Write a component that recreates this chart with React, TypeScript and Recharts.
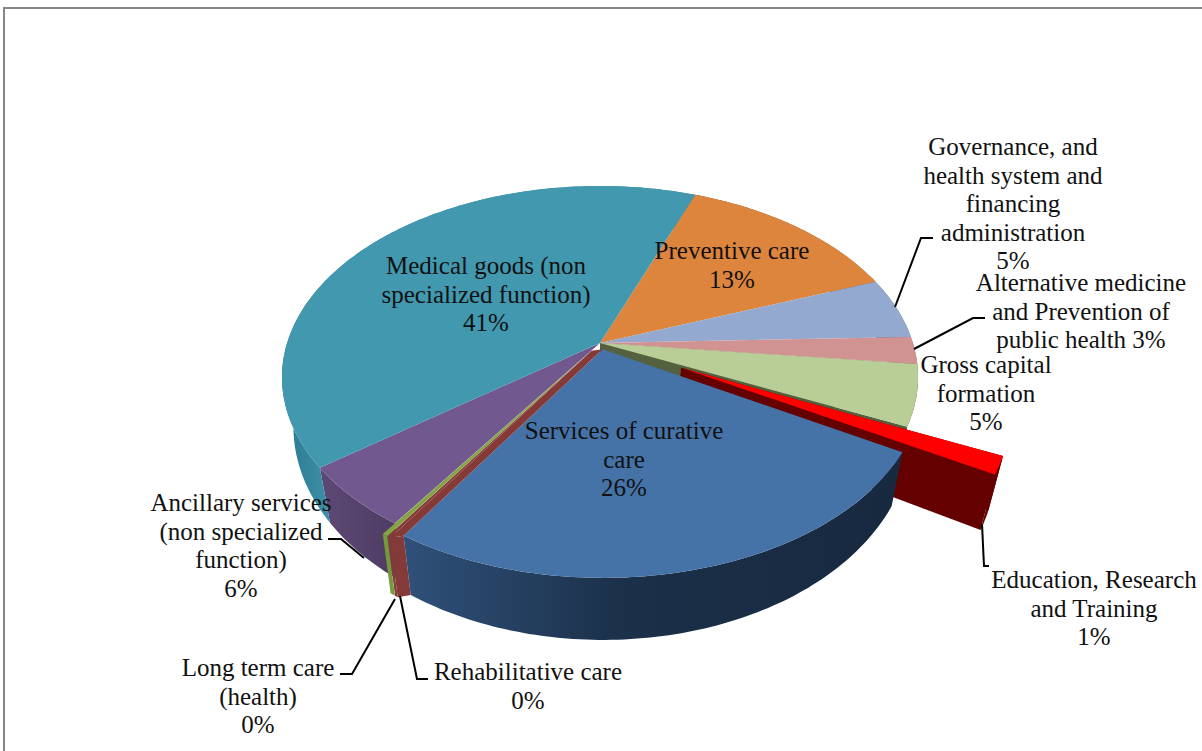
import { PieChart, Pie } from 'recharts';

// slices run clockwise, starting at the Preventive care edge
const sliceNames = [
  'Preventive care',
  'Governance',
  'Alternative medicine',
  'Gross capital formation',
  'Education',
  'Services of curative care',
  'Rehabilitative care',
  'Long term care',
  'Ancillary services',
  'Medical goods',
];
const sliceValues = [13.5, 5.2, 2.3, 5.1, 1.45, 25.7, 0.15, 0.25, 5.3, 41.05];
const labelLines = [
  ['Preventive care', '13%'],
  ['Governance, and', 'health system and', 'financing', 'administration', '5%'],
  ['Alternative medicine', 'and Prevention of', 'public health 3%'],
  ['Gross capital', 'formation', '5%'],
  ['Education, Research', 'and Training', '1%'],
  ['Services of curative', 'care', '26%'],
  ['Rehabilitative care', '0%'],
  ['Long term care', '(health)', '0%'],
  ['Ancillary services', '(non specialized', 'function)', '6%'],
  ['Medical goods (non', 'specialized function)', '41%'],
];

const topColors = ['#DD843D', '#93A9CF', '#D19392', '#B9CD96', '#FF0000', '#4572A7', '#853A38', '#84A442', '#71588F', '#4198AF'];
const wallStops: string[][] = [
  ['#8a5020', '#8a5020'],
  ['#5a6a88', '#5a6a88'],
  ['#8a5f5e', '#8a5f5e'],
  ['#55603f', '#55603f'],
  ['#640000', '#640000'],
  ['#2f5078', '#1b3049', '#17293f'],
  ['#843A38', '#843A38'],
  ['#749A3E', '#749A3E'],
  ['#5c4874', '#4f3c63'],
  ['#2c7a90', '#3a8ea6'],
];
const wallRange = [
  [0, 1202], [0, 1202], [0, 1202], [0, 1202], [0, 1202],
  [410, 620, 900],
  [0, 1202], [0, 1202],
  [325, 395],
  [285, 325],
];

// where each label block is centred, and the y of its first baseline
const labelAnchors = [
  [732, 259], [1013, 155], [1081, 291], [986, 373], [1094, 588],
  [624, 439], [528, 680], [258, 676], [241, 511], [486, 274],
];
const lineStep = 28.5;
const leaderLines = [
  null,
  '895,307 921,238 933,238',
  '914,349 973,318 985,318',
  null,
  '982,524 984,566 989,566',
  null,
  '400,596 417,679 428,679',
  '395,599 352,674 340,674',
  '364,558 341,539 328,539',
  null,
];

// pull of each slice away from the centre, as a share of the radius
const sliceExplode = [0, 0, 0, 0, 0.285, 0.035, 0.05, 0.05, 0, 0];
const sideWalled = [3, 4];
const SERVICES = 5;
const REHAB = 6;
const LONG_TERM = 7;
const CX = 600;
const CY = 343;
// perspective of the disc: semi axes in px and the foreshortening term
const AX = 312.9;
const AY = 185.1;
const K = -0.179;

const topPoint = (thetaDeg: number, offU: number, offV: number, r = 1) => {
  const t = (thetaDeg * Math.PI) / 180;
  const u = r * Math.sin(t) + offU;
  const v = -r * Math.cos(t) + offV;
  const d = 1 + K * v;
  return [CX + (AX * u) / d, CY + (AY * v) / d];
};
// the lower rim of the disc
const lowerPoint = (p: number[]) => [CX + (p[0] - CX) * 0.964, 523 + 1.064 * (p[1] - 468)];

const toPath = (pts: number[][]) => 'M' + pts.map((p) => p[0].toFixed(1) + ',' + p[1].toFixed(1)).join('L') + 'Z';

const offsetFor = (i: number, midDeg: number) => {
  const mid = (midDeg * Math.PI) / 180;
  return [sliceExplode[i] * Math.sin(mid), -sliceExplode[i] * Math.cos(mid)];
};

const sliceGeometry = (props: any) => {
  const i = sliceNames.indexOf(props.payload?.name ?? props.name);
  const a = 90 - props.startAngle;
  const b = 90 - props.endAngle;
  const [offU, offV] = offsetFor(i, (a + b) / 2);
  const arc: number[][] = [];
  const steps = Math.max(2, Math.ceil(Math.abs(b - a)));
  for (let s = 0; s <= steps; s++) arc.push(topPoint(a + ((b - a) * s) / steps, offU, offV));
  const apex = topPoint(0, offU, offV, 0);
  return { i, a, arc, apex };
};

// the band left open between the pulled-out Services slice and Rehabilitative care
const rehabBand = (a: number) => {
  const span = sliceValues[SERVICES] * 3.6;
  const [offU, offV] = offsetFor(SERVICES, a - span / 2);
  return { apex: topPoint(0, offU, offV, 0), rim: topPoint(a, offU, offV) };
};

const renderWall = (props: any) => {
  const { i, a, arc, apex } = sliceGeometry(props);
  const lowerArc = arc.map(lowerPoint);
  const lowerApex = lowerPoint(apex);
  const fill = `url(#wall${i})`;
  return (
    <g>
      {sideWalled.includes(i) && (
        <>
          <path d={toPath([apex, arc[0], lowerArc[0], lowerApex])} fill={wallStops[i][0]} />
          <path d={toPath([apex, arc[arc.length - 1], lowerArc[lowerArc.length - 1], lowerApex])} fill={wallStops[i][0]} />
        </>
      )}
      {i === REHAB && (
        <path d={toPath([rehabBand(a).rim, arc[0], lowerArc[0], lowerPoint(rehabBand(a).rim)])} fill={wallStops[i][0]} />
      )}
      <path d={toPath([...arc, ...lowerArc.slice().reverse()])} fill={fill} />
    </g>
  );
};

const isThinSlice = (props: any) => {
  const i = sliceNames.indexOf(props.payload?.name ?? props.name);
  return i === REHAB || i === LONG_TERM;
};
// the two thin slices stick out past the Ancillary wall, so they are painted after it
const BackWall = (props: any) => (isThinSlice(props) ? <g /> : renderWall(props));
const FrontWall = (props: any) => (isThinSlice(props) ? renderWall(props) : <g />);

const TopSlice = (props: any) => {
  const { i, a, arc, apex } = sliceGeometry(props);
  return (
    <g>
      {i === REHAB && <path d={toPath([rehabBand(a).apex, rehabBand(a).rim, arc[0], apex])} fill={topColors[i]} />}
      <path d={toPath([apex, ...arc])} fill={topColors[i]} />
    </g>
  );
};

const SliceLabel = (props: any) => {
  const i = props.index ?? sliceNames.indexOf(props.name);
  const [x, y] = labelAnchors[i];
  const leader = leaderLines[i];
  return (
    <g>
      {leader && <polyline points={leader} fill="none" stroke="#000" strokeWidth={2} />}
      <text x={x} y={y} textAnchor="middle" fontFamily="'Liberation Serif', serif" fontSize={25} fill="#111">
        {labelLines[i].map((line, n) => (
          <tspan key={n} x={x} y={y + n * lineStep}>
            {line}
          </tspan>
        ))}
      </text>
    </g>
  );
};

const chartData = sliceNames.map((name, n) => ({ name, value: sliceValues[n] }));

export default function App() {
  const pieProps = {
    data: chartData,
    dataKey: 'value',
    nameKey: 'name',
    cx: CX,
    cy: CY,
    outerRadius: 318,
    startAngle: 69.2,
    endAngle: -290.8,
    stroke: 'none',
    isAnimationActive: false,
  };
  return (
    <div style={{ position: 'absolute', left: 0, top: 0, width: 1202, height: 751, overflow: 'hidden', background: '#fff' }}>
      <div style={{ position: 'absolute', left: 3, top: 7, right: 0, bottom: 0, borderTop: '2px solid #868686', borderLeft: '2px solid #868686' }} />
      <PieChart width={1202} height={751} margin={{ top: 0, right: 0, bottom: 0, left: 0 }} style={{ position: 'absolute', left: 0, top: 0 }}>
        <defs>
          {wallStops.map((stops, i) => (
            <linearGradient key={i} id={`wall${i}`} gradientUnits="userSpaceOnUse" x1={wallRange[i][0]} x2={wallRange[i][wallRange[i].length - 1]} y1={0} y2={0}>
              {stops.map((c, n) => (
                <stop key={n} offset={(wallRange[i][n] - wallRange[i][0]) / (wallRange[i][wallRange[i].length - 1] - wallRange[i][0])} stopColor={c} />
              ))}
            </linearGradient>
          ))}
        </defs>
        <Pie {...pieProps} shape={BackWall} label={false} labelLine={false} />
        <Pie {...pieProps} shape={FrontWall} label={false} labelLine={false} />
        <Pie {...pieProps} shape={TopSlice} label={SliceLabel} labelLine={false} />
      </PieChart>
    </div>
  );
}
